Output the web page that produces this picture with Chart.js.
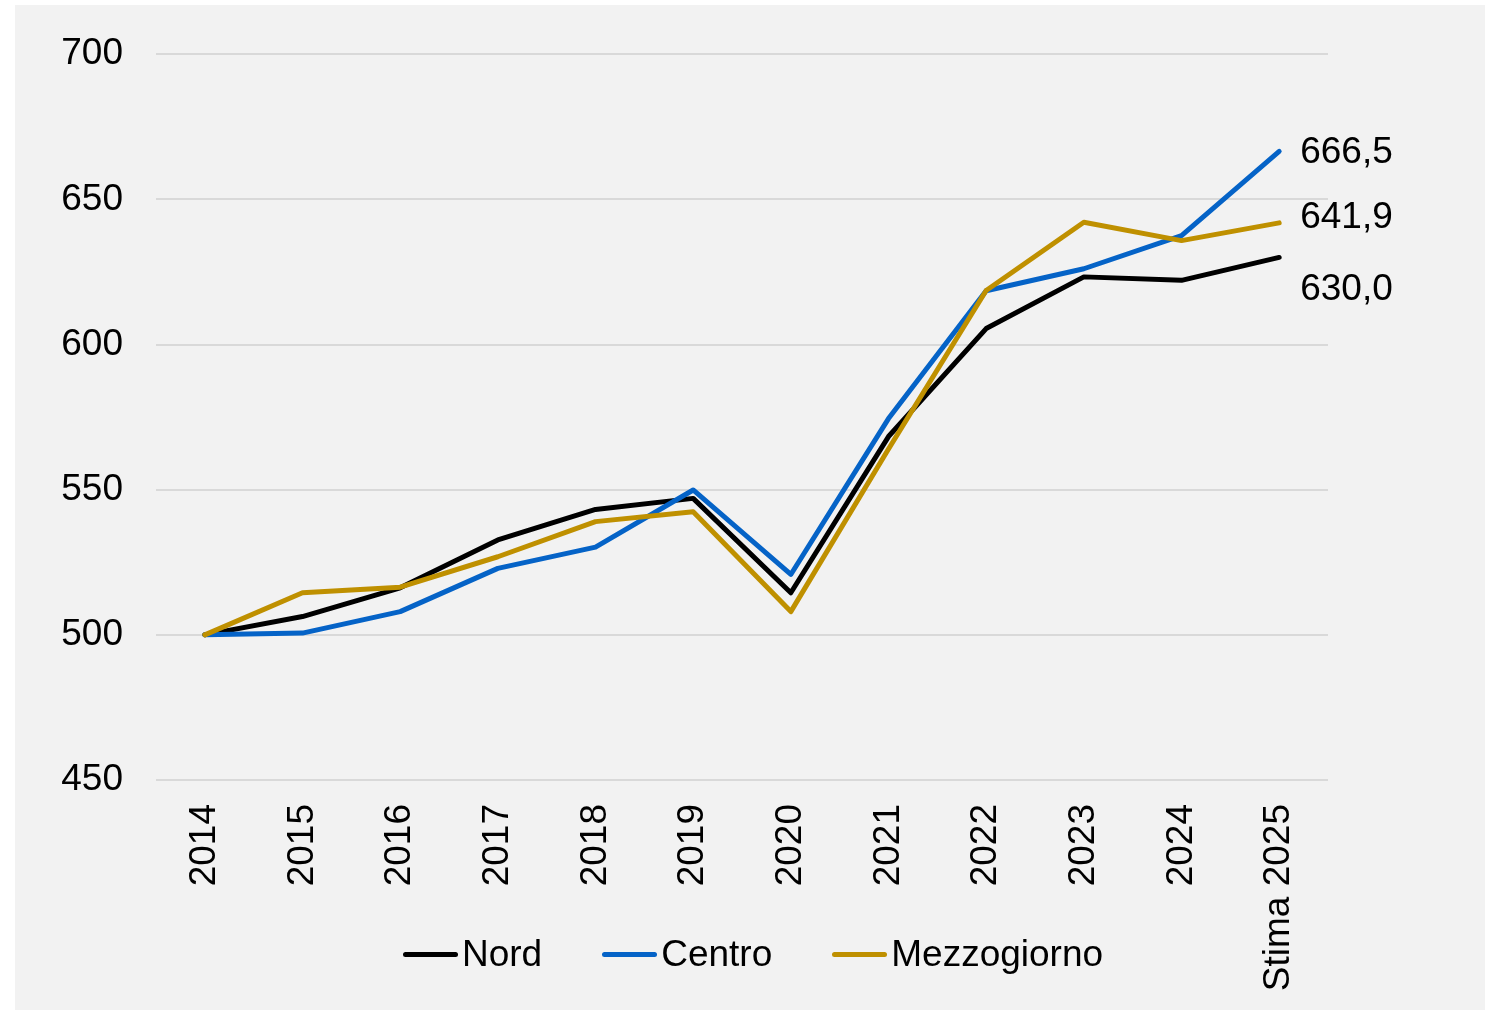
<!DOCTYPE html>
<html>
<head>
<meta charset="utf-8">
<script src="https://cdn.jsdelivr.net/npm/chart.js@4"></script>
<style>
  html, body { margin: 0; padding: 0; background: #ffffff; }
  body { width: 1485px; height: 1010px; position: relative; overflow: hidden; font-family: "Liberation Sans", Arial, sans-serif; }
  #wrap { position: absolute; left: 15px; top: 5px; width: 1470px; height: 1005px; background: #f2f2f2; overflow: hidden; }
  #c { position: absolute; left: 0; top: -6px; }
  #legend { position: absolute; left: 388px; top: 926px; display: flex; align-items: center; height: 46px; font-size: 37px; color: #000; }
  .item { display: flex; align-items: center; }
  .swatch { width: 55px; height: 5px; border-radius: 3px; margin-right: 4px; }
  .item + .item { margin-left: 60px; }
</style>
</head>
<body>
<div id="wrap">
  <canvas id="c" width="1470" height="1011"></canvas>
  <div id="legend"></div>
</div>
<script>
const categories = ['2014', '2015', '2016', '2017', '2018', '2019', '2020', '2021', '2022', '2023', '2024', 'Stima 2025'];
const nord = [500, 506.3, 516.2, 532.7, 543.2, 547.0, 514.5, 568.3, 605.5, 623.3, 622.1, 630.0];
const centro = [500, 500.6, 508.0, 522.9, 530.2, 549.9, 520.8, 574.5, 618.5, 626.1, 637.5, 666.5];
const mezzogiorno = [500, 514.5, 516.4, 526.9, 539.0, 542.4, 508.0, 564.0, 618.6, 642.1, 635.8, 641.9];
const seriesNames = ['Nord', 'Centro', 'Mezzogiorno'];
const yTicks = [450, 500, 550, 600, 650, 700];

const colors = ['#000000', '#0563c7', '#bf9000'];
const endLabelDy = [32, 1, -5];

const FONT = '"Liberation Sans", Arial, sans-serif';
const FSIZE = 37;

const endLabels = {
  id: 'endLabels',
  afterDatasetsDraw(chart) {
    const ctx = chart.ctx;
    ctx.save();
    ctx.font = FSIZE + 'px ' + FONT;
    ctx.fillStyle = '#000';
    ctx.textAlign = 'left';
    ctx.textBaseline = 'middle';
    chart.data.datasets.forEach((ds, i) => {
      const meta = chart.getDatasetMeta(i);
      const pt = meta.data[meta.data.length - 1];
      const v = ds.data[ds.data.length - 1];
      ctx.fillText(v.toFixed(1).replace('.', ','), pt.x + 21, pt.y + endLabelDy[i]);
    });
    ctx.restore();
  }
};

const datasets = [nord, centro, mezzogiorno].map((d, i) => ({
  label: seriesNames[i],
  data: d,
  borderColor: colors[i],
  backgroundColor: colors[i],
  borderWidth: 5,
  pointRadius: 0,
  tension: 0,
  borderCapStyle: 'round',
  borderJoinStyle: 'round',
  order: 2 - i
}));

new Chart(document.getElementById('c'), {
  type: 'line',
  data: { labels: categories, datasets },
  plugins: [endLabels],
  options: {
    responsive: false,
    animation: false,
    layout: { padding: { top: 42, right: 157, bottom: 0, left: 0 } },
    plugins: { legend: { display: false }, tooltip: { enabled: false }, title: { display: false } },
    scales: {
      x: {
        offset: true,
        grid: { display: false, drawTicks: false },
        border: { display: false },
        ticks: {
          autoSkip: false, minRotation: 90, maxRotation: 90, padding: 24,
          color: '#000', font: { family: FONT, size: FSIZE }
        },
        afterFit(scale) { scale.height = 230; }
      },
      y: {
        min: 450, max: 700,
        afterBuildTicks(scale) { scale.ticks = yTicks.map(v => ({ value: v })); },
        grid: { color: '#d9d9d9', lineWidth: 2, drawTicks: false },
        border: { display: false },
        ticks: { padding: 33, color: '#000', font: { family: FONT, size: FSIZE } },
        afterFit(scale) { scale.width = 141; }
      }
    }
  }
});

const legend = document.getElementById('legend');
seriesNames.forEach((n, i) => {
  const it = document.createElement('div');
  it.className = 'item';
  const sw = document.createElement('div');
  sw.className = 'swatch';
  sw.style.background = colors[i];
  const t = document.createElement('span');
  t.textContent = n;
  it.appendChild(sw);
  it.appendChild(t);
  legend.appendChild(it);
});
</script>
</body>
</html>
